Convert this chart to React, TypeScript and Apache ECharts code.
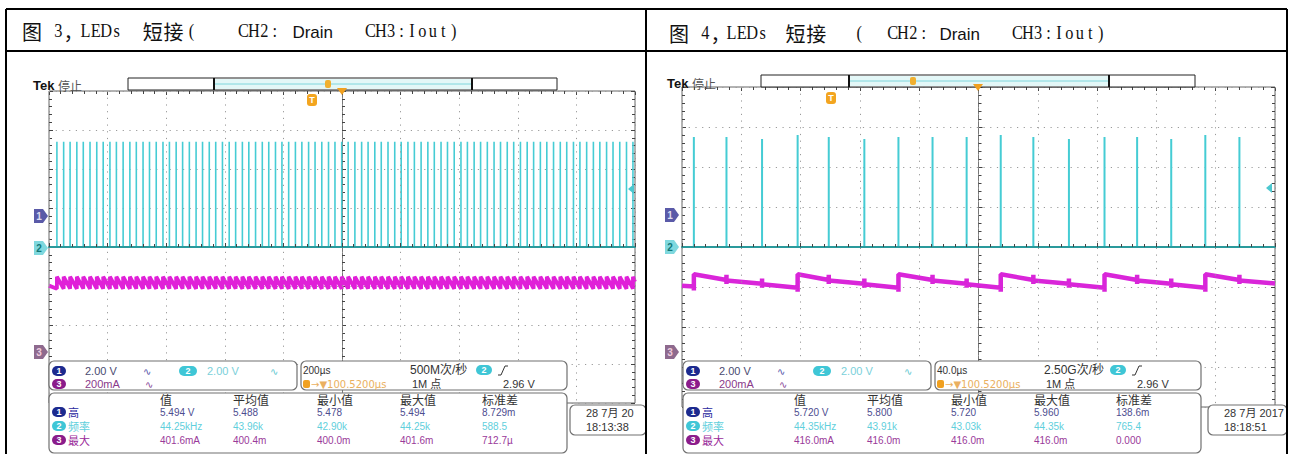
import React, { useEffect, useRef } from "react";
import * as echarts from "echarts";

// ---------------- data ----------------
const leftTime = { min: -1000, max: 1000, div: 200 }; // µs, 200 µs/div
const rightTime = { min: -200, max: 200, div: 40 }; // µs, 40 µs/div
const ch2Volts = { min: -8, max: 8, div: 2 }; // 2.00 V/div
const ch3mA = { min: -250, max: 1350 }; // 200 mA/div

// CH2 drain spikes (µs)
const leftSpikeTimes = [
  -973, -950, -928, -905, -883, -860, -837, -815, -792, -770,
  -747, -724, -702, -679, -657, -634, -611, -589, -566, -544,
  -521, -498, -476, -453, -431, -408, -385, -363, -340, -318,
  -295, -272, -250, -227, -205, -182, -159, -137, -114, -92,
  -69, -46, -24, -1, 21, 44, 67, 89, 112, 134,
  157, 180, 202, 225, 247, 270, 293, 315, 338, 360,
  383, 406, 428, 451, 473, 496, 519, 541, 564, 586,
  609, 632, 654, 677, 699, 722, 745, 767, 790, 812,
  835, 858, 880, 903, 925, 948, 971, 993,
];
const leftSpikePeak = 5.4; // V
// CH3 current ripple (mA), figure 3
const leftCh3Low = 336;
const leftCh3High = 398;
const leftCh3Start = 352;
const leftCh3End = 372;

// figure 4
const rightSpikeTimes = [-192, -170, -146, -122, -101, -77, -54, -31, -8, 15, 37, 61, 85, 107, 130, 153, 176];
const rightSpikePeaks = [5.5, 5.5, 5.4, 5.6, 5.5, 5.4, 5.5, 5.5, 5.5, 5.6, 5.5, 5.4, 5.5, 5.5, 5.4, 5.6, 5.5];
const rightCh3Before = [352, 385, 366, 346, 385, 366, 346, 385, 366, 346, 385, 366, 346, 385, 366, 346, 385];
const rightCh3After = [414, 383, 364, 414, 383, 364, 414, 383, 364, 414, 383, 364, 414, 383, 364, 414, 383];
const rightCh3Start = 356;
const rightCh3End = 368;
const rightCh3TickUp = 26;
const rightCh3TickDown = 20;

const measHeaders = ["值", "平均值", "最小值", "最大值", "标准差"];
const measLabels = ["高", "频率", "最大"];
const leftMeas = [
  ["5.494 V", "5.488", "5.478", "5.494", "8.729m"],
  ["44.25kHz", "43.96k", "42.90k", "44.25k", "588.5"],
  ["401.6mA", "400.4m", "400.0m", "401.6m", "712.7µ"],
];
const rightMeas = [
  ["5.720 V", "5.800", "5.720", "5.960", "138.6m"],
  ["44.35kHz", "43.91k", "43.03k", "44.35k", "765.4"],
  ["416.0mA", "416.0m", "416.0m", "416.0m", "0.000"],
];
const chScales = ["2.00 V", "2.00 V", "200mA"];
const leftInfo = { timebase: "200µs", rate: "500M次/秒", points: "1M 点", trig: "2.96 V", delay: "→▼100.5200µs", date: "28 7月 20", time: "18:13:38" };
const rightInfo = { timebase: "40.0µs", rate: "2.50G次/秒", points: "1M 点", trig: "2.96 V", delay: "→▼100.5200µs", date: "28 7月 2017", time: "18:18:51" };

// caption pieces: [cell, text, kind]
const leftTitle: [number, string, string][] = [
  [0, "图", "cjk"], [3, "3", "mono"], [4, "，", "cjk"], [5.6, "LEDs", "mono"], [11.6, "短接", "cjk"],
  [15.8, "(", "mono"], [20.8, "CH2:", "mono"], [26, "Drain", "sans"], [33, "CH3:Iout)", "mono"],
];
const rightTitle: [number, string, string][] = [
  [0, "图", "cjk"], [3, "4", "mono"], [4, "，", "cjk"], [5.5, "LEDs", "mono"], [11.2, "短接", "cjk"],
  [17.8, "(", "mono"], [21, "CH2:", "mono"], [26, "Drain", "sans"], [33, "CH3:Iout)", "mono"],
];

// ---------------- helpers ----------------
const SANS = '"Liberation Sans", Arial, sans-serif';
const CJK = '"Noto Sans CJK SC", sans-serif';
const MIX = '"Liberation Sans", "Noto Sans CJK SC", sans-serif';

function T(x: number, y: number, text: string, fill: string, font: string, align = "left", z = 110, extra: any = {}) {
  return { type: "text", x, y, z, ...extra, style: { text, fill, font, textAlign: align, textVerticalAlign: "middle" } };
}
function Rr(x: number, y: number, w: number, h: number, fill: string, stroke: string | null, r = 5, lw = 1.2, z = 100) {
  return { type: "rect", z, shape: { x, y, width: w, height: h, r }, style: { fill, stroke: stroke || undefined, lineWidth: lw } };
}
function L(x1: number, y1: number, x2: number, y2: number, stroke: string, lw = 1, z = 100) {
  return { type: "line", z, shape: { x1, y1, x2, y2 }, style: { stroke, lineWidth: lw } };
}
function badge(cx: number, cy: number, label: string, fill: string, w = 14) {
  return [
    Rr(cx - w / 2, cy - 5, w, 10, fill, null, 5, 0, 105),
    T(cx, cy, label, "#fff", `bold 9px ${SANS}`, "center", 106),
  ];
}

const C1 = "#1c2a8f";
const C2 = "#3fc6d6";
const C3 = "#8b1c8b";

function titleEls(items: [number, string, string][], x0: number, y: number) {
  const p = 10.4;
  const els: any[] = [];
  items.forEach(([cell, text, kind]) => {
    if (kind === "cjk") {
      Array.from(text).forEach((ch, i) => els.push(T(x0 + (cell + 2 * i) * p, y, ch, "#111", `20px ${CJK}`, "left", 120)));
    } else if (kind === "sans") {
      els.push(T(x0 + cell * p, y + 1, text, "#111", `17px ${SANS}`, "left", 120));
    } else {
      Array.from(text).forEach((ch, i) =>
        els.push(T(x0 + (cell + i + 0.5) * p, y, ch, "#111", `19px "Liberation Serif", serif`, "center", 120, { scaleX: 0.86, originX: 0, originY: 0 }))
      );
    }
  });
  return els;
}

function scopeEls(o: any) {
  const dx = o.dx;
  const els: any[] = [];
  // Tek header
  els.push(T(o.tekX, o.tekY, "Tek", "#111", `bold 13px ${SANS}`));
  els.push(T(o.tekX + 25, o.tekY, "停止", "#555", `12px ${CJK}`));
  // record bar
  const b = o.bar;
  els.push(Rr(b.x1, b.y, b.x2 - b.x1, b.h, "#fff", "#222", 0, 1));
  els.push(Rr(b.d1, b.y + 1, b.d2 - b.d1, b.h - 2, "#e3f7f7", null, 0, 0, 101));
  els.push(L(b.d1, b.y + b.h / 2, b.d2, b.y + b.h / 2, "#7fd6dc", 1, 102));
  els.push(L(b.d1, b.y, b.d1, b.y + b.h, "#111", 2, 103));
  els.push(L(b.d2, b.y, b.d2, b.y + b.h, "#111", 2, 103));
  els.push(Rr(b.mark - 3, b.y + 2, 6, 8, "#f0b030", null, 2, 0, 104));
  // trigger position marker & icon
  els.push({ type: "polygon", z: 104, shape: { points: [[o.trigX - 5, o.gridTop - 3], [o.trigX + 5, o.gridTop - 3], [o.trigX, o.gridTop + 4]] }, style: { fill: "#f0a020" } });
  els.push(Rr(o.iconX - 5, o.iconY - 6, 10, 12, "#f3a51f", null, 3, 0, 104));
  els.push(T(o.iconX, o.iconY, "T", "#fff", `bold 9px ${SANS}`, "center", 105));
  // channel markers
  const mk = (y: number, fill: string, label: string, tc: string) => [
    { type: "polygon", z: 104, shape: { points: [[o.mkX, y - 7], [o.mkX + 9, y - 7], [o.mkX + 14, y], [o.mkX + 9, y + 7], [o.mkX, y + 7]] }, style: { fill } },
    T(o.mkX + 5, y, label, tc, `bold 10px ${SANS}`, "center", 105),
  ];
  els.push(...mk(o.mk1, "#5a5aa8", "1", "#dde"));
  els.push(...mk(o.mk2, "#7fd8de", "2", "#177"));
  els.push(...mk(o.mk3, "#8e6a8e", "3", "#ecd"));
  // trigger level arrow
  els.push({ type: "polygon", z: 104, shape: { points: [[o.tlX, o.tlY], [o.tlX + 6, o.tlY - 5], [o.tlX + 6, o.tlY + 5]] }, style: { fill: "#4cc8d0" } });

  // panel 1 : channel scales
  els.push(Rr(49 + dx, 361, 248, 29, "#fff", "#707070"));
  els.push(...badge(59 + dx, 371, "1", C1));
  els.push(T(85 + dx, 371, chScales[0], "#4a4a70", `11px ${SANS}`));
  els.push(T(143 + dx, 371, "∿", "#5555aa", `10px "DejaVu Sans"`));
  els.push(...badge(188 + dx, 371, "2", C2, 18));
  els.push(T(207 + dx, 371, chScales[1], "#7ad0da", `11px ${SANS}`));
  els.push(T(270 + dx, 371, "∿", "#5fc8d0", `10px "DejaVu Sans"`));
  els.push(...badge(59 + dx, 384, "3", C3));
  els.push(T(85 + dx, 384, chScales[2], "#8a3a8a", `11px ${SANS}`));
  els.push(T(145 + dx, 384, "∿", "#8a4a9a", `10px "DejaVu Sans"`));

  // panel 2 : timebase
  const inf = o.info;
  els.push(Rr(301 + dx, 361, 266, 29, "#fff", "#707070"));
  els.push(T(303 + dx, 370, inf.timebase, "#333", `10px ${SANS}`));
  els.push(T(410 + dx, 370, inf.rate, "#333", `12px ${MIX}`));
  els.push(...badge(484 + dx, 370, "2", C2, 16));
  els.push({ type: "polyline", z: 106, shape: { points: [[498 + dx, 375], [501 + dx, 375], [505 + dx, 366], [508 + dx, 366]] }, style: { stroke: "#333", lineWidth: 1, fill: null } });
  els.push(Rr(303 + dx, 380, 7, 8, "#f0a020", null, 2, 0, 105));
  els.push(T(311 + dx, 384, inf.delay, "#eab060", `10px "DejaVu Sans", ${MIX}`));
  els.push(T(412 + dx, 384, inf.points, "#333", `11px ${MIX}`));
  els.push(T(503 + dx, 384, inf.trig, "#333", `11px ${SANS}`));

  // panel 3 : measurements
  els.push(Rr(49 + dx, 393, 518, 60, "#fff", "#707070"));
  const colX = [160, 233, 317, 400, 482];
  measHeaders.forEach((h, i) => els.push(T(colX[i] + dx, 399, h, "#333", `12px ${CJK}`)));
  const rowY = [412, 426, 440];
  const rowCol = ["#4d4d8f", "#5fcfdc", "#9a3a9a"];
  const labCol = ["#2a2aa0", "#5fcfdc", "#9a2a9a"];
  const bc = [C1, C2, C3];
  rowY.forEach((y, r) => {
    els.push(...badge(59 + dx, y, String(r + 1), bc[r]));
    els.push(T(68 + dx, y, measLabels[r], labCol[r], `11px ${CJK}`));
    o.meas[r].forEach((v: string, c: number) => els.push(T(colX[c] + dx, y, v, rowCol[r], `10px ${SANS}`)));
  });

  // panel 4 : date
  els.push(Rr(o.dateX, 405, o.dateW, 30, "#fff", "#707070"));
  els.push(T(o.dateX + 16, 413, inf.date, "#333", `11px ${MIX}`));
  els.push(T(o.dateX + 16, 427, inf.time, "#333", `11px ${SANS}`));
  return els;
}

function spikeData(times: number[], peaks: number[], xmin: number, xmax: number) {
  const d: number[][] = [[xmin, 0]];
  times.forEach((t, i) => d.push([t, 0], [t, peaks[i]], [t, 0]));
  d.push([xmax, 0]);
  return d;
}

function axesFor(g: number, time: any) {
  const tickStyle = { color: "#444", width: 1 };
  const xMain = {
    gridIndex: g, type: "value", min: time.min, max: time.max, interval: time.div, z: 3,
    axisLine: { show: true, onZero: true, lineStyle: { color: "#2a9a9c", width: 2 } },
    axisTick: { show: true, inside: true, length: 4, lineStyle: tickStyle },
    minorTick: { show: true, splitNumber: 5, length: 3, lineStyle: tickStyle },
    axisLabel: { show: false },
    splitLine: { show: true, lineStyle: { color: "#9a9a9a", width: 1, type: [1.2, 5.5] } },
  };
  const xTop = {
    gridIndex: g, type: "value", position: "top", min: time.min, max: time.max, interval: time.div,
    axisLine: { show: false, onZero: false },
    axisTick: { show: true, inside: true, length: 4, lineStyle: tickStyle },
    minorTick: { show: true, splitNumber: 5, length: 3, lineStyle: tickStyle },
    axisLabel: { show: false }, splitLine: { show: false },
  };
  const yMain = {
    gridIndex: g, type: "value", min: ch2Volts.min, max: ch2Volts.max, interval: ch2Volts.div,
    axisLine: { show: true, onZero: true, lineStyle: { color: "#777", width: 1 } },
    axisTick: { show: true, inside: true, length: 4, lineStyle: tickStyle },
    minorTick: { show: true, splitNumber: 5, length: 3, lineStyle: tickStyle },
    axisLabel: { show: false },
    splitLine: { show: true, lineStyle: { color: "#9a9a9a", width: 1, type: [1.2, 5.5] } },
  };
  const y3 = { gridIndex: g, type: "value", min: ch3mA.min, max: ch3mA.max, show: false, splitLine: { show: false } };
  const yL = {
    gridIndex: g, type: "value", position: "left", min: ch2Volts.min, max: ch2Volts.max, interval: ch2Volts.div,
    axisLine: { show: false, onZero: false },
    axisTick: { show: true, inside: true, length: 4, lineStyle: tickStyle },
    minorTick: { show: true, splitNumber: 5, length: 3, lineStyle: tickStyle },
    axisLabel: { show: false }, splitLine: { show: false },
  };
  const yR = { ...yL, position: "right" };
  return { x: [xMain, xTop], y: [yMain, y3, yL, yR] };
}

export default function App() {
  const ref = useRef<HTMLDivElement>(null);
  useEffect(() => {
    if (!ref.current) return;
    const chart = echarts.init(ref.current, null, { renderer: "svg" });
    const a0 = axesFor(0, leftTime);
    const a1 = axesFor(1, rightTime);

    const leftCh3: number[][] = [[leftTime.min, leftCh3Start]];
    leftSpikeTimes.forEach((t) => leftCh3.push([t, leftCh3Low], [t, leftCh3High]));
    leftCh3.push([leftTime.max, leftCh3End]);

    const rightCh3: number[][] = [[rightTime.min, rightCh3Start]];
    rightSpikeTimes.forEach((t, i) =>
      rightCh3.push(
        [t, rightCh3Before[i]],
        [t, rightCh3Before[i] + rightCh3TickUp],
        [t, rightCh3Before[i] - rightCh3TickDown],
        [t, rightCh3After[i]]
      )
    );
    rightCh3.push([rightTime.max, rightCh3End]);

    const lineSeries = (name: string, data: number[][], xi: number, yi: number, color: string, width: number) => ({
      name, type: "line", data, xAxisIndex: xi, yAxisIndex: yi, showSymbol: false, symbol: "none",
      lineStyle: { color, width }, z: 2, animation: false,
    });

    const graphics: any[] = [];
    // table borders
    graphics.push(L(6, 9, 1287, 9, "#000", 2, 130));
    graphics.push(L(6, 51, 1287, 51, "#000", 2, 130));
    graphics.push(L(6, 9, 6, 454, "#000", 2, 130));
    graphics.push(L(646, 9, 646, 454, "#000", 2, 130));
    graphics.push(L(1287, 9, 1287, 454, "#000", 2, 130));
    graphics.push(...titleEls(leftTitle, 22, 31));
    graphics.push(...titleEls(rightTitle, 669, 33));

    graphics.push(...scopeEls({
      dx: 0, info: leftInfo, meas: leftMeas, tekX: 33, tekY: 85,
      bar: { x1: 128, x2: 557, y: 78, h: 12, d1: 214, d2: 472, mark: 328 },
      trigX: 342, gridTop: 91, iconX: 312, iconY: 100,
      mkX: 34, mk1: 216, mk2: 248, mk3: 352, tlX: 628, tlY: 189,
      dateX: 570, dateW: 76,
    }));
    graphics.push(...scopeEls({
      dx: 634, info: rightInfo, meas: rightMeas, tekX: 667, tekY: 83,
      bar: { x1: 761, x2: 1195, y: 75, h: 12, d1: 849, d2: 1109, mark: 913 },
      trigX: 978, gridTop: 87, iconX: 831, iconY: 98,
      mkX: 665, mk1: 215, mk2: 247, mk3: 352, tlX: 1266, tlY: 188,
      dateX: 1208, dateW: 79,
    }));

    chart.setOption({
      animation: false,
      backgroundColor: "#fff",
      grid: [
        { left: 49, top: 91, width: 586, height: 312, show: true, borderColor: "#666", borderWidth: 1, backgroundColor: "transparent" },
        { left: 682, top: 87, width: 593, height: 320, show: true, borderColor: "#666", borderWidth: 1, backgroundColor: "transparent" },
      ],
      xAxis: [...a0.x, ...a1.x],
      yAxis: [...a0.y, ...a1.y],
      series: [
        lineSeries("CH2 fig3", spikeData(leftSpikeTimes, leftSpikeTimes.map(() => leftSpikePeak), leftTime.min, leftTime.max), 0, 0, "#45ccd4", 1.6),
        lineSeries("CH3 fig3", leftCh3, 0, 1, "#e020d8", 3.8),
        lineSeries("CH2 fig4", spikeData(rightSpikeTimes, rightSpikePeaks, rightTime.min, rightTime.max), 2, 4, "#45ccd4", 2),
        lineSeries("CH3 fig4", rightCh3, 2, 5, "#d925d9", 4.5),
      ],
      graphic: { elements: graphics },
    });
    return () => chart.dispose();
  }, []);
  return <div ref={ref} style={{ position: "fixed", left: 0, top: 0, width: 1293, height: 454, background: "#fff" }} />;
}
